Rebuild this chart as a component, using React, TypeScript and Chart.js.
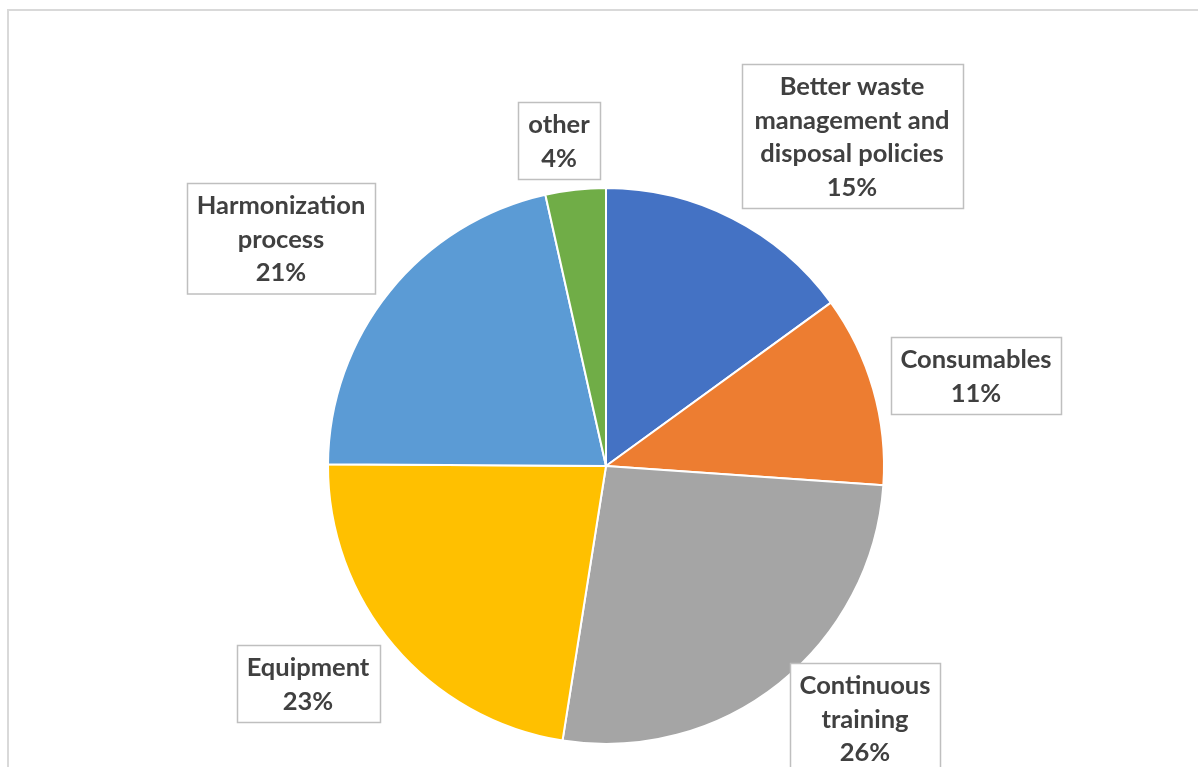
import React, { useEffect, useRef } from "react";
import { Chart, registerables } from "chart.js";

Chart.register(...registerables);

// ---- data ----
const categories = [
  "Better waste management and disposal policies",
  "Consumables",
  "Continuous training",
  "Equipment",
  "Harmonization process",
  "other",
];
const labelLines = [
  ["Better waste", "management and", "disposal policies"],
  ["Consumables"],
  ["Continuous", "training"],
  ["Equipment"],
  ["Harmonization", "process"],
  ["other"],
];
const values = [15.0, 11.1, 26.4, 22.6, 21.4, 3.5];
const colors = ["#4472C4", "#ED7D31", "#A5A5A5", "#FFC000", "#5B9BD5", "#70AD47"];

// ---- label layout (offset of box centre from pie centre, box width) ----
const labelOffsets: [number, number][] = [
  [246, -330],
  [370, -91],
  [259, 252],
  [-298, 217],
  [-325, -228],
  [-47, -326],
];
const labelWidths = [221, 170, 150, 143, 188, 82];

const FONT = "bold 25.5px Lato, 'Open Sans', sans-serif";
const LINE_H = 33.5;

const framePlugin = {
  id: "frame",
  beforeDraw(chart: any) {
    const ctx = chart.ctx;
    ctx.save();
    ctx.fillStyle = "#ffffff";
    ctx.fillRect(0, 0, chart.width, chart.height);
    ctx.strokeStyle = "#d9d9d9";
    ctx.lineWidth = 2;
    ctx.strokeRect(8, 10, 1400, 1000);
    ctx.restore();
  },
};

const boxLabelPlugin = {
  id: "boxLabels",
  afterDraw(chart: any) {
    const ctx = chart.ctx;
    const meta = chart.getDatasetMeta(0);
    const data = chart.data.datasets[0].data as number[];
    const total = data.reduce((a, b) => a + b, 0);
    ctx.save();
    meta.data.forEach((arc: any, i: number) => {
      const cx = arc.x + labelOffsets[i][0];
      const cy = arc.y + labelOffsets[i][1];
      const lines = [...labelLines[i], Math.round((data[i] / total) * 100) + "%"];
      const h = lines.length * LINE_H + 10;
      const w = labelWidths[i];
      const x0 = Math.round(cx - w / 2) + 0.5;
      const y0 = Math.round(cy - h / 2) + 0.5;
      ctx.fillStyle = "#ffffff";
      ctx.fillRect(x0, y0, w, h);
      ctx.strokeStyle = "#bfbfbf";
      ctx.lineWidth = 1.5;
      ctx.strokeRect(x0, y0, w, h);
      ctx.fillStyle = "#404040";
      ctx.font = FONT;
      ctx.textAlign = "center";
      ctx.textBaseline = "middle";
      lines.forEach((t, k) => {
        ctx.fillText(t, cx, y0 + 5 + LINE_H / 2 + k * LINE_H + 1);
      });
    });
    ctx.restore();
  },
};

export default function App() {
  const ref = useRef<HTMLCanvasElement | null>(null);
  useEffect(() => {
    if (!ref.current) return;
    const chart = new Chart(ref.current, {
      type: "pie",
      data: {
        labels: categories,
        datasets: [
          {
            data: values,
            backgroundColor: colors,
            borderColor: "#ffffff",
            borderWidth: 2,
          },
        ],
      },
      options: {
        animation: false,
        responsive: false,
        maintainAspectRatio: false,
        radius: 278,
        layout: { padding: { left: 328, right: 314, top: 188, bottom: 23 } },
        plugins: {
          legend: { display: false },
          tooltip: { enabled: false },
          title: { display: false },
        },
      },
      plugins: [framePlugin, boxLabelPlugin],
    });
    return () => chart.destroy();
  }, []);
  return (
    <div style={{ position: "fixed", left: 0, top: 0, width: 1198, height: 767, overflow: "hidden", background: "#fff" }}>
      <canvas ref={ref} width={1198} height={767} style={{ display: "block", width: 1198, height: 767 }} />
    </div>
  );
}
